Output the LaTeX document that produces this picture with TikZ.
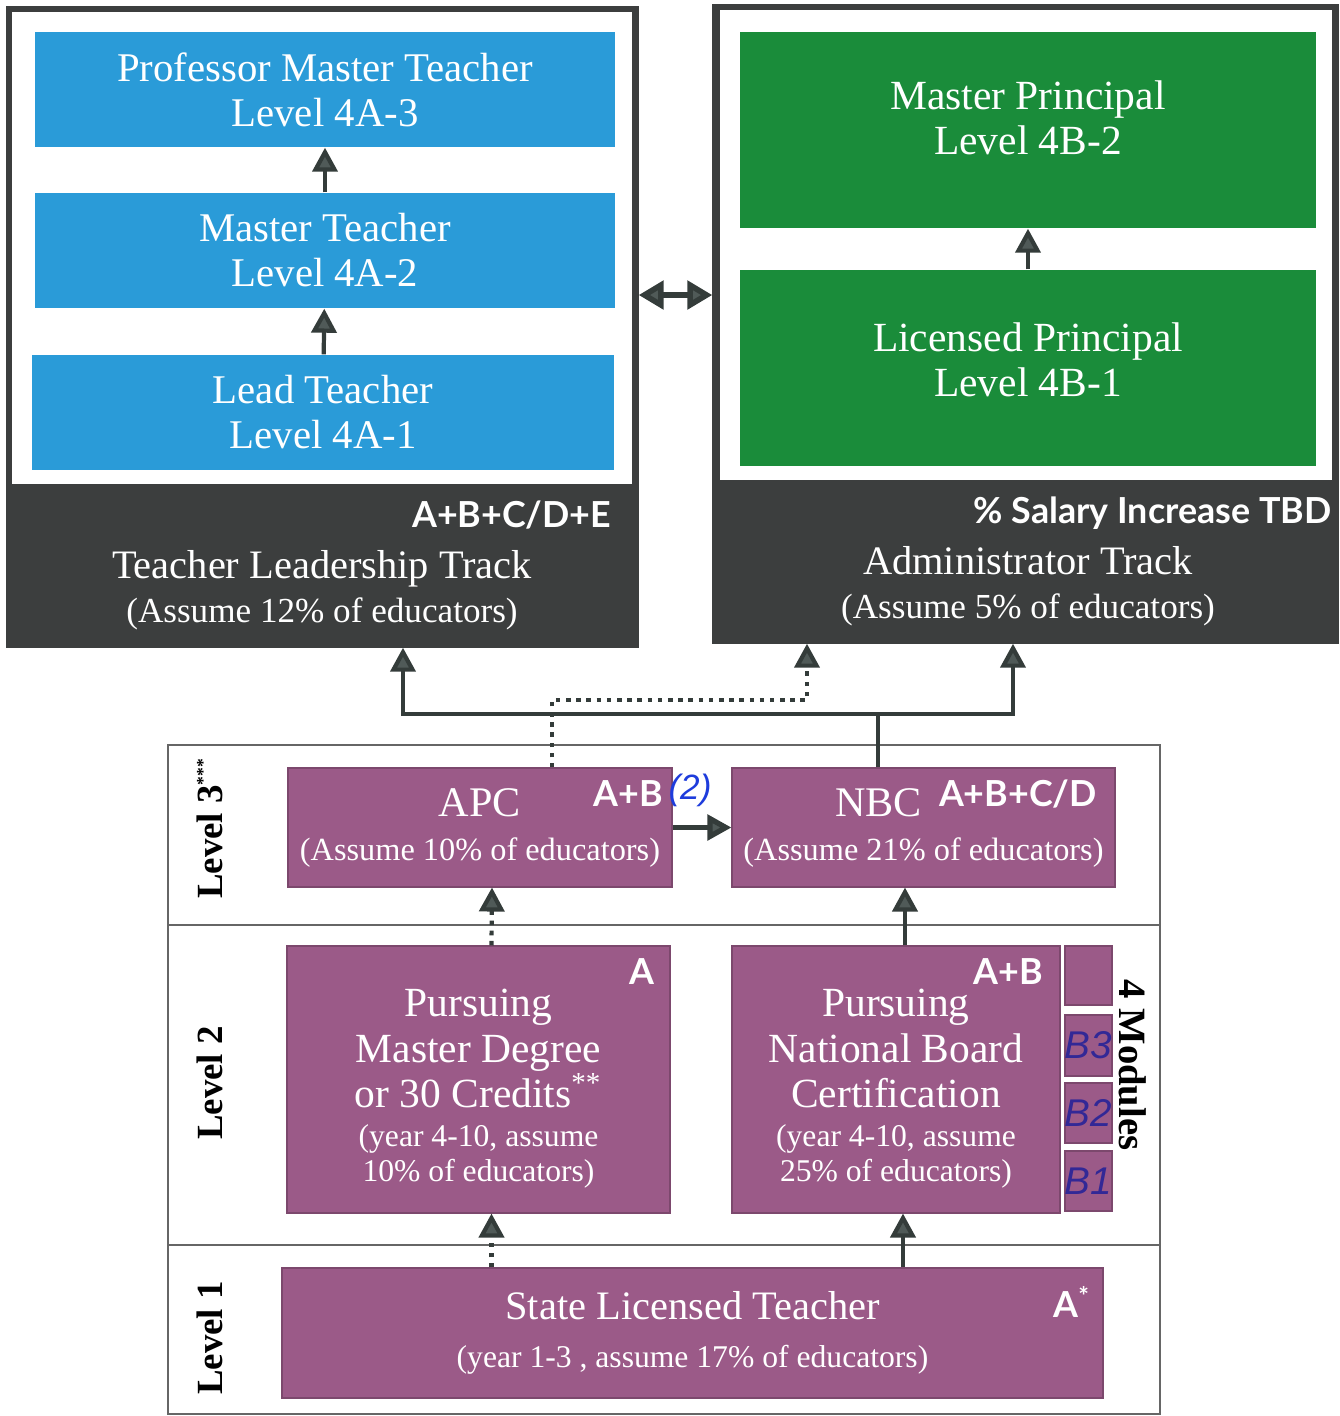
\documentclass[tikz,border=0pt]{standalone}
\usepackage{fontspec}
\setmainfont{Liberation Serif}
\newfontfamily\tagfont{Lato}
\newfontfamily\handfont{Liberation Sans}
\usepackage{tikz}
\usetikzlibrary{arrows.meta,positioning,calc}
\definecolor{trackgray}{RGB}{60,62,62}
\definecolor{tealgray}{RGB}{52,60,58}
\definecolor{tipgray}{RGB}{80,90,88}
\definecolor{skyblue}{RGB}{42,155,216}
\definecolor{leafgreen}{RGB}{26,140,58}
\definecolor{mauve}{RGB}{155,90,136}
\definecolor{inkblue}{RGB}{50,40,150}
\definecolor{penblue}{RGB}{30,60,220}

\begin{document}
\begin{tikzpicture}[
  track/.style={fill=trackgray, draw=trackgray, inner sep=0pt},
  lvbox/.style={fill=skyblue, text=white, align=center, inner sep=0pt, minimum width=5.8cm, minimum height=1.15cm, font=\fontsize{11.6}{12.8}\selectfont},
  gnbox/.style={fill=leafgreen, inner sep=0pt, minimum width=5.76cm, minimum height=1.96cm},
  gntxt/.style={text=white, align=center, font=\fontsize{11.8}{12.8}\selectfont},
  pbox/.style={fill=mauve, draw=mauve!80!black, line width=0.3pt, text=white, align=center, inner sep=0pt},
  modbox/.style={pbox, minimum width=0.47cm},
  ttl/.style={text=white, align=center, font=\fontsize{11.5}{12.5}\selectfont},
  tag/.style={text=white, font=\tagfont\bfseries\fontsize{10.2}{11}\selectfont, inner sep=0pt},
  lvl/.style={font=\bfseries\fontsize{10.5}{12}\selectfont, rotate=90},
  hand/.style={font=\handfont\itshape\fontsize{11}{11}\selectfont, text=inkblue, inner sep=0pt},
  arr/.style={-{Triangle[length=2.4mm, width=2.5mm, fill=tipgray]}, line width=1.2pt, draw=tealgray},
  dotarr/.style={arr, dash pattern=on 1.3pt off 1.6pt},
  frame/.style={draw=black!60, line width=0.5pt}]

\useasboundingbox (0,0) rectangle (13.4,-14.16);

%% ── teacher leadership track ─────────────────────────────
\node[track, minimum width=6.31cm, minimum height=6.40cm] (tlt) at (3.225,-3.27) {};
\fill[white] (0.12,-0.12) rectangle (6.32,-4.84);
\node[lvbox] (pmt) at (3.25,-0.895) {Professor Master Teacher\\Level 4A-3};
\node[lvbox] (mt)  at (3.25,-2.505) {Master Teacher\\Level 4A-2};
\node[lvbox, minimum width=5.82cm] (lt) at (3.23,-4.125) {Lead Teacher\\Level 4A-1};
\draw[arr] (lt) -- (mt);
\draw[arr] (mt) -- (pmt);
\node[tag, anchor=north east] at (6.12,-5.0) {A+B+C/D+E};
\node[ttl] (tltT) at (3.22,-5.90)
  {Teacher Leadership Track\\\fontsize{10}{11}\selectfont(Assume 12\% of educators)};

%% ── administrator track ──────────────────────────────────
\node[track, minimum width=6.25cm, minimum height=6.38cm] (atr) at (10.255,-3.24) {};
\fill[white] (7.20,-0.10) rectangle (13.32,-4.80);
\node[gnbox] (mp) at (10.28,-1.30) {};
\node[gnbox] (lp) at (10.28,-3.68) {};
\node[gntxt] at ([yshift=0.12cm]mp.center) {Master Principal\\Level 4B-2};
\node[gntxt] at ([yshift=0.08cm]lp.center) {Licensed Principal\\Level 4B-1};
\draw[arr] (lp) -- (mp);
\node[tag, anchor=north east] at (13.32,-4.96) {\% Salary Increase TBD};
\node[ttl] (atrT) at (10.28,-5.86)
  {Administrator Track\\\fontsize{10}{11}\selectfont(Assume 5\% of educators)};

\coordinate (mid) at (6.75,-2.95);
\draw[arr, {Triangle[length=2.5mm, width=2.8mm, fill=tipgray]}-{Triangle[length=2.5mm, width=2.8mm, fill=tipgray]}, line width=1.6pt]
  (mid -| tlt.east) -- (mid -| atr.west);

%% ── levels frame ─────────────────────────────────────────
\draw[frame] (1.68,-14.14) -- (1.68,-7.45) -- (11.60,-7.45) -- (11.60,-14.14) -- cycle;
\draw[frame] (1.68,-9.25) -- (11.60,-9.25);
\draw[frame] (1.68,-12.45) -- (11.60,-12.45);
\node[lvl] (l3) at (2.10,-8.28) {Level 3\textsuperscript{\tiny***}};
\node[lvl] (l2) at (2.10,-10.83) {Level 2};
\node[lvl] (l1) at (2.10,-13.38) {Level 1};

%% level 3
\node[pbox, minimum width=3.84cm, minimum height=1.19cm, font=\fontsize{12}{12.5}\selectfont] (apc) at (4.80,-8.275)
  {APC\\\fontsize{9.2}{10}\selectfont(Assume 10\% of educators)};
\node[pbox, minimum width=3.83cm, minimum height=1.19cm, font=\fontsize{12}{12.5}\selectfont] (nbc) at (9.235,-8.275)
  {NBC\hspace*{0.9cm}\\\fontsize{9.2}{10}\selectfont(Assume 21\% of educators)};
\node[tag, anchor=north east] at ([shift={(-0.09,-0.12)}]apc.north east) {A+B};
\node[tag, anchor=north east] at ([shift={(-0.18,-0.12)}]nbc.north east) {A+B+C/D};
\node[hand, text=penblue, font=\handfont\itshape\fontsize{10}{10}\selectfont] at (6.90,-7.90) {(2)};
\draw[arr, line width=1.5pt] (apc) -- (nbc);

%% level 2
\node[pbox, minimum width=3.83cm, minimum height=2.67cm, font=\fontsize{11.8}{13}\selectfont] (pmd) at (4.785,-10.795)
  {\rule{0pt}{13pt}Pursuing\\Master Degree\\or 30 Credits\textsuperscript{**}\\[-2pt]
   \fontsize{9}{10}\selectfont(year 4-10, assume\\[-3pt]\fontsize{9}{10}\selectfont 10\% of educators)};
\node[pbox, minimum width=3.28cm, minimum height=2.67cm, font=\fontsize{11.8}{13}\selectfont] (pnb) at (8.96,-10.795)
  {\rule{0pt}{13pt}Pursuing\\National Board\\Certification\\[-2pt]
   \fontsize{9}{10}\selectfont(year 4-10, assume\\[-3pt]\fontsize{9}{10}\selectfont 25\% of educators)};
\node[tag, anchor=north east] at ([shift={(-0.15,-0.12)}]pmd.north east) {A};
\node[tag, anchor=north east] at ([shift={(-0.17,-0.12)}]pnb.north east) {A+B};
\node[modbox, minimum height=0.59cm] (m4) at (10.885,-9.755) {};
\node[modbox, minimum height=0.61cm] (m3) at (10.885,-10.455) {};
\node[modbox, minimum height=0.60cm] (m2) at (10.885,-11.13) {};
\node[modbox, minimum height=0.60cm] (m1) at (10.885,-11.81) {};
\node[hand] at (m3) {B3};
\node[hand] at (m2) {B2};
\node[hand] at (m1) {B1};
\node[font=\bfseries\fontsize{11}{12}\selectfont, rotate=-90] (mods) at (11.33,-10.65) {4 Modules};

%% level 1
\node[pbox, minimum width=8.21cm, minimum height=1.30cm, font=\fontsize{11.5}{12.5}\selectfont] (slt) at (6.925,-13.33)
  {State Licensed Teacher\\[1pt]\fontsize{9}{10}\selectfont(year 1-3 , assume 17\% of educators)};
\node[tag, anchor=north east] at ([shift={(-0.12,-0.18)}]slt.north east) {A\textsuperscript{*}};

%% ── connectors ───────────────────────────────────────────
\draw[dotarr] ([xshift=0.13cm]slt.north -| pmd.south) -- ([xshift=0.13cm]pmd.south);
\draw[arr] ([xshift=0.07cm]slt.north -| pnb.south) -- ([xshift=0.07cm]pnb.south);
\draw[dotarr] ([xshift=0.13cm]pmd.north) -- ([xshift=0.12cm]apc.south);
\draw[arr] (pnb.north -| 9.05,0) -- (nbc.south -| 9.05,0);

\coordinate (jn) at (8.78,-7.14);
\coordinate (jl) at (4.03,-7.14);
\coordinate (jr) at (10.13,-7.14);
\draw[arr] (nbc.north -| jn) |- (jl) -- (tlt.south -| jl);
\draw[arr] (jn) -| (atr.south -| jr);
\coordinate (dj) at (5.52,-7.00);
\coordinate (dr) at (8.07,-7.00);
\draw[dotarr] (apc.north -| dj) -- (dj) -| (atr.south -| dr);
\end{tikzpicture}
\end{document}
